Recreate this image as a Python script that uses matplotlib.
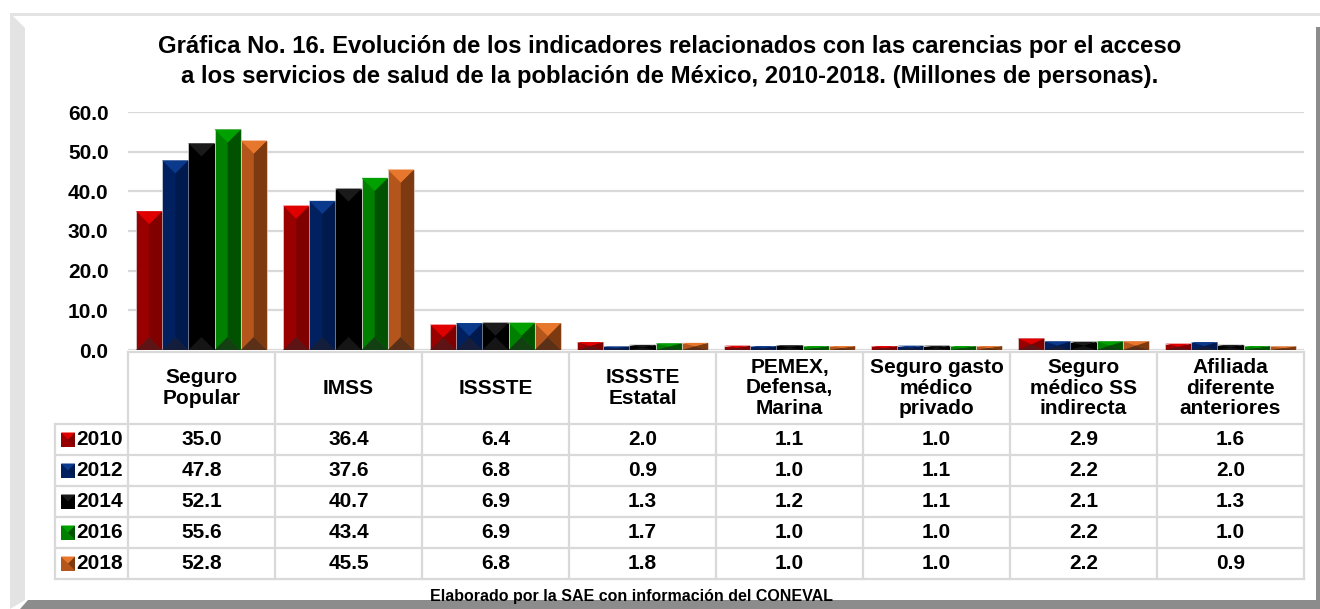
import matplotlib.pyplot as plt
from matplotlib.patches import Polygon, Rectangle

plt.rcParams['font.family'] = ['Liberation Sans', 'DejaVu Sans']
plt.rcParams['font.weight'] = 'bold'

# ---- data ----
categories = ['Seguro\nPopular', 'IMSS', 'ISSSTE', 'ISSSTE\nEstatal',
              'PEMEX,\nDefensa,\nMarina', 'Seguro gasto\nmédico\nprivado',
              'Seguro\nmédico SS\nindirecta', 'Afiliada\ndiferente\nanteriores']
years = ['2010', '2012', '2014', '2016', '2018']
v2010 = [35.0, 36.4, 6.4, 2.0, 1.1, 1.0, 2.9, 1.6]
v2012 = [47.8, 37.6, 6.8, 0.9, 1.0, 1.1, 2.2, 2.0]
v2014 = [52.1, 40.7, 6.9, 1.3, 1.2, 1.1, 2.1, 1.3]
v2016 = [55.6, 43.4, 6.9, 1.7, 1.0, 1.0, 2.2, 1.0]
v2018 = [52.8, 45.5, 6.8, 1.8, 1.0, 1.0, 2.2, 0.9]
series = [v2010, v2012, v2014, v2016, v2018]

# main / top / right / bottom shades for the bevelled bars
c_main = ['#990000', '#002060', '#000000', '#008000', '#b4561b']
c_top = ['#e00000', '#0b3a8c', '#1a1a1a', '#00a000', '#e8772e']
c_right = ['#800000', '#001a4d', '#000000', '#005200', '#7d3a10']
c_bot = ['#5e1414', '#141e3c', '#151515', '#134013', '#5a3018']

title1 = 'Gráfica No. 16. Evolución de los indicadores relacionados con las carencias por el acceso'
title2 = 'a los servicios de salud de la población de México, 2010-2018. (Millones de personas).'
source = 'Elaborado por la SAE con información del CONEVAL'

W, H = 1320, 609
fig = plt.figure(figsize=(13.2, 6.09), dpi=100)
FS = 15


def fx(px):
    return px / W


def fy(py):
    return 1 - py / H


# ---- frame around the chart ----
frame = fig.add_axes([0, 0, 1, 1], zorder=-5)
frame.set_xlim(0, W)
frame.set_ylim(H, 0)
frame.axis('off')
frame.add_patch(Rectangle((10, 13), W - 10, 3, color='#e3e3e3', lw=0))
frame.add_patch(Polygon([(10, 13), (25, 28), (25, 600), (10, 609)], color='#e3e3e3', lw=0))
frame.add_patch(Polygon([(20, 609), (28, 600), (W, 600), (W, 609)], color='#8c8c8c', lw=0))
frame.add_patch(Polygon([(1316, 27), (W, 27), (W, 609), (1316, 600)], color='#8c8c8c', lw=0))

fig.text(fx(670), fy(47), title1, ha='center', va='center', fontsize=17.2, fontweight='bold')
fig.text(fx(670), fy(77), title2, ha='center', va='center', fontsize=17.2, fontweight='bold')
fig.text(fx(631), fy(597), source, ha='center', va='center', fontsize=11.5, fontweight='bold')

# ---- bars ----
ax = fig.add_axes([fx(128), fy(350), fx(1304) - fx(128), fy(112) - fy(350)])
ax.set_xlim(-0.5, 7.5)
ax.set_ylim(0, 60)
for s in ax.spines.values():
    s.set_visible(False)
ax.set_yticks(range(0, 61, 10))
ax.set_yticklabels([f'{t:.1f}' for t in range(0, 61, 10)], fontsize=FS, fontweight='bold')
ax.tick_params(axis='y', length=0, pad=14)
ax.set_xticks([])
ax.yaxis.grid(True, color='#d9d9d9', lw=1.6)
ax.set_axisbelow(True)

bw = 0.178
px_per_unit_y = (fy(112) - fy(350)) * H / 60
px_per_unit_x = (1304 - 128) / 8
depth = bw * px_per_unit_x / 2 / px_per_unit_y

for j, vals in enumerate(series):
    xs = [i + (j - 2) * bw for i in range(len(vals))]
    ax.bar(xs, vals, width=bw, color=c_main[j], edgecolor='#d8d8d8', lw=0.5, zorder=2)
    for x, h in zip(xs, vals):
        x0, x1 = x - bw / 2, x + bw / 2
        d = min(depth, h / 2)
        ax.add_patch(Polygon([(x, d), (x, h - d), (x1, h), (x1, 0)], color=c_right[j], lw=0, zorder=3))
        ax.add_patch(Polygon([(x0, h), (x1, h), (x, h - d)], color=c_top[j], lw=0, zorder=3))
        ax.add_patch(Polygon([(x0, 0), (x1, 0), (x, d)], color=c_bot[j], lw=0, zorder=3))

# ---- data table ----
tb = fig.add_axes([fx(128), fy(580), fx(1304) - fx(128), fy(352) - fy(580)])
tb.set_xlim(-0.5, 7.5)
tb.set_ylim(580, 352)
tb.axis('off')
grid_kw = dict(color='#d9d9d9', lw=1.6, clip_on=False)
row_edges = [424, 455, 486, 517, 548, 579]
lab_left = -0.5 - 73 / px_per_unit_x

tb.plot([-0.5, 7.5], [352, 352], **grid_kw)
for y in row_edges:
    tb.plot([lab_left, 7.5], [y, y], **grid_kw)
for i in range(9):
    tb.plot([i - 0.5, i - 0.5], [352, 579], **grid_kw)
tb.plot([lab_left, lab_left], [424, 579], **grid_kw)

for i, cat in enumerate(categories):
    tb.text(i, 388, cat, ha='center', va='center', fontsize=FS, fontweight='bold',
            linespacing=1.1)

key = 14 / px_per_unit_x
for j, (yr, vals) in enumerate(zip(years, series)):
    yc = (row_edges[j] + row_edges[j + 1]) / 2
    kx0 = lab_left + 6 / px_per_unit_x
    kx1 = kx0 + key
    kxc = (kx0 + kx1) / 2
    ky0, ky1 = yc - 7, yc + 7
    tb.add_patch(Rectangle((kx0, ky0), key, 14, color=c_main[j], lw=0, clip_on=False))
    tb.add_patch(Polygon([(kx1, ky0), (kx1, ky1), (kxc, yc)], color=c_right[j], lw=0, clip_on=False))
    tb.add_patch(Polygon([(kx0, ky0), (kx1, ky0), (kxc, yc)], color=c_top[j], lw=0, clip_on=False))
    tb.text(kx1 + 1 / px_per_unit_x, yc, yr, ha='left', va='center', fontsize=FS,
            fontweight='bold', clip_on=False)
    for i, v in enumerate(vals):
        tb.text(i, yc, f'{v:.1f}', ha='center', va='center', fontsize=FS, fontweight='bold')

fig.savefig('out.png', dpi=100)
